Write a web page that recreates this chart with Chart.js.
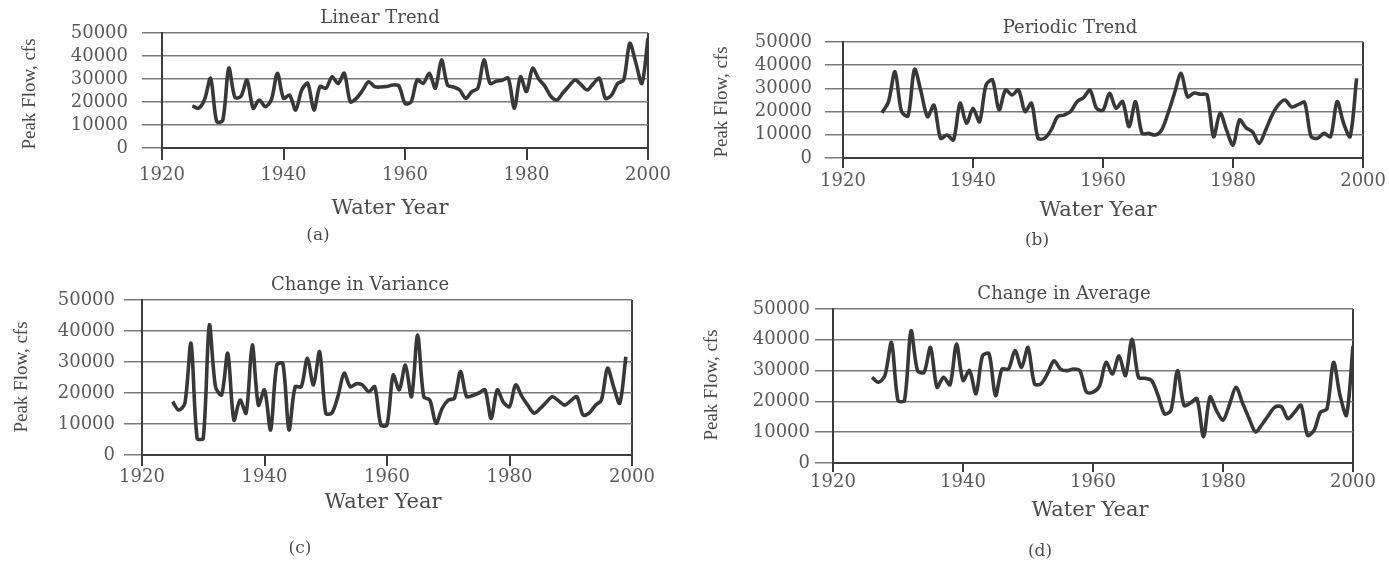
<!DOCTYPE html>
<html>
<head>
<meta charset="utf-8">
<script src="https://cdn.jsdelivr.net/npm/chart.js@4.4.0/dist/chart.umd.min.js"></script>
<style>
  html, body { margin: 0; padding: 0; background: #ffffff; }
  #wrap { position: relative; width: 1389px; height: 566px; overflow: hidden; background: #fff; }
  canvas { position: absolute; }
</style>
</head>
<body>
<div id="wrap">
  <canvas id="cA"></canvas>
  <canvas id="cB"></canvas>
  <canvas id="cC"></canvas>
  <canvas id="cD"></canvas>
</div>
<script>
// ---------------- DATA ----------------
const xTickLabels = [1920, 1940, 1960, 1980, 2000];
const yTickLabels = [0, 10000, 20000, 30000, 40000, 50000];

const panelTitles = ["Linear Trend", "Periodic Trend", "Change in Variance", "Change in Average"];
const panelLetters = ["(a)", "(b)", "(c)", "(d)"];
const xAxisTitle = "Water Year";
const yAxisTitle = "Peak Flow, cfs";

const yearsA = [1925,1926,1927,1928,1929,1930,1931,1932,1933,1934,1935,1936,1937,1938,1939,1940,1941,1942,1943,1944,1945,1946,1947,1948,1949,1950,1951,1952,1953,1954,1955,1956,1957,1958,1959,1960,1961,1962,1963,1964,1965,1966,1967,1968,1969,1970,1971,1972,1973,1974,1975,1976,1977,1978,1979,1980,1981,1982,1983,1984,1985,1986,1987,1988,1989,1990,1991,1992,1993,1994,1995,1996,1997,1998,1999,2000];
const flowLinear = [18300,17300,21000,30300,11500,12000,34700,22000,22500,29600,17300,20900,18000,21000,32500,21600,23000,16500,25200,28100,16500,26700,26000,31000,28000,32500,20100,21600,25000,28800,26700,26500,26700,27400,27000,19400,20000,29600,28100,32500,26000,38300,27400,26500,25200,21600,24500,26000,38300,28100,29000,29500,30300,17300,31000,24500,34700,30000,27000,22500,20900,24000,27000,29600,27500,25200,28000,30300,21600,23000,28000,29600,45500,37000,28100,47700];

const yearsB = [1926,1927,1928,1929,1930,1931,1932,1933,1934,1935,1936,1937,1938,1939,1940,1941,1942,1943,1944,1945,1946,1947,1948,1949,1950,1951,1952,1953,1954,1955,1956,1957,1958,1959,1960,1961,1962,1963,1964,1965,1966,1967,1968,1969,1970,1971,1972,1973,1974,1975,1976,1977,1978,1979,1980,1981,1982,1983,1984,1985,1986,1987,1988,1989,1990,1991,1992,1993,1994,1995,1996,1997,1998,1999];
const flowPeriodic = [19500,24300,37200,20000,18100,38200,28600,17800,22800,8500,9900,7800,23600,15000,21400,15600,31500,33600,20700,29300,27200,29300,20000,23600,8500,8500,12000,17800,18500,20000,24300,26000,29300,21400,20700,27900,21400,24300,13500,24300,10600,10600,9900,12000,19300,28000,36500,26400,28000,27500,27200,9200,19300,12000,5600,16400,13000,11300,6300,12000,18500,23000,25000,22000,23000,24000,9200,8500,10600,9200,24300,15000,9200,34300];

const yearsC = [1925,1926,1927,1928,1929,1930,1931,1932,1933,1934,1935,1936,1937,1938,1939,1940,1941,1942,1943,1944,1945,1946,1947,1948,1949,1950,1951,1952,1953,1954,1955,1956,1957,1958,1959,1960,1961,1962,1963,1964,1965,1966,1967,1968,1969,1970,1971,1972,1973,1974,1975,1976,1977,1978,1979,1980,1981,1982,1983,1984,1985,1986,1987,1988,1989,1990,1991,1992,1993,1994,1995,1996,1997,1998,1999];
const flowVariance = [17200,14500,16700,36000,5400,5400,41900,22000,19400,32800,11300,17700,13500,35500,16100,21000,8100,29000,29500,8100,22000,22000,31200,22600,33300,13500,13500,19000,26400,22000,23000,22600,20400,22000,9700,9700,25800,21000,29000,18800,38700,18800,17700,10200,15000,17700,18300,26900,18800,19200,20000,21000,11800,21000,17000,15600,22600,19000,16000,13500,15000,17000,18800,17500,16100,17500,18800,12900,13500,16000,17700,28000,22000,16700,31700];

const yearsD = [1926,1927,1928,1929,1930,1931,1932,1933,1934,1935,1936,1937,1938,1939,1940,1941,1942,1943,1944,1945,1946,1947,1948,1949,1950,1951,1952,1953,1954,1955,1956,1957,1958,1959,1960,1961,1962,1963,1964,1965,1966,1967,1968,1969,1970,1971,1972,1973,1974,1975,1976,1977,1978,1979,1980,1981,1982,1983,1984,1985,1986,1987,1988,1989,1990,1991,1992,1993,1994,1995,1996,1997,1998,1999,2000];
const flowAverage = [27800,26200,28500,39100,20300,20300,42900,30000,29400,37500,24600,27800,25400,38600,26800,30000,22500,34800,35500,21900,30500,30500,36500,31000,37500,25700,25700,29000,33200,30500,30000,30500,29900,23000,23000,25000,32700,28900,34800,28400,40200,27800,27500,26800,22000,16000,17100,30000,18700,19500,20900,8500,21400,17000,13900,19000,24600,19500,14500,10100,12500,15500,18200,18200,14400,16500,18700,9000,10600,16500,17600,32700,22000,15500,38000];

// ---------------- STYLE / LAYOUT ----------------
const AXIS = '#3c3c3c';
const GRID = '#7a7a7a';
const TICK = '#5a5a5a';
const TEXT = '#4a4a4a';
const LINE = '#383838';
const YW = 120, XH = 40;

const panels = [
  { id:'cA', years: yearsA, values: flowLinear, box:{left:0, top:0, w:694, h:270},
    plot:{L:162, R:648, T:33, B:148}, ytl:20, ypad:14, xtl:12, xpad:5,
    title:[380,18], ytitle:[30,94], xtitle:[390,209], letter:[318,236] },
  { id:'cB', years: yearsB, values: flowPeriodic, box:{left:694, top:0, w:695, h:270},
    plot:{L:843, R:1365, T:42, B:158}, ytl:18, ypad:13, xtl:10, xpad:3,
    title:[1070,28], ytitle:[722,102], xtitle:[1098,211], letter:[1037,241] },
  { id:'cC', years: yearsC, values: flowVariance, box:{left:0, top:270, w:694, h:296},
    plot:{L:142, R:632, T:300, B:455}, ytl:18, ypad:9, xtl:11, xpad:1,
    title:[360,285], ytitle:[22,377], xtitle:[383,503], letter:[300,549] },
  { id:'cD', years: yearsD, values: flowAverage, box:{left:694, top:270, w:695, h:296},
    plot:{L:833, R:1353, T:309, B:463}, ytl:18, ypad:5, xtl:9, xpad:0,
    title:[1064,294], ytitle:[712,385], xtitle:[1090,511], letter:[1040,552] }
];

function makeTextPlugin(p, idx) {
  return {
    id: 'panelText' + idx,
    afterDraw(chart) {
      const ctx = chart.ctx;
      const ox = p.box.left, oy = p.box.top;
      const items = [
        { t: panelTitles[idx], pos: p.title, font: '18px "DejaVu Serif"', rot: false },
        { t: xAxisTitle, pos: p.xtitle, font: '21px "DejaVu Serif"', rot: false },
        { t: yAxisTitle, pos: p.ytitle, font: '19px "Liberation Serif"', rot: true },
        { t: panelLetters[idx], pos: p.letter, font: '17px "DejaVu Serif"', rot: false }
      ];
      items.forEach(it => {
        ctx.save();
        ctx.font = it.font;
        ctx.fillStyle = TEXT;
        ctx.textAlign = 'center';
        ctx.textBaseline = 'middle';
        ctx.translate(it.pos[0] - ox, it.pos[1] - oy);
        if (it.rot) ctx.rotate(-Math.PI / 2);
        ctx.fillText(it.t, 0, 0);
        ctx.restore();
      });
    }
  };
}

panels.forEach((p, idx) => {
  const cv = document.getElementById(p.id);
  cv.width = p.box.w; cv.height = p.box.h;
  cv.style.left = p.box.left + 'px'; cv.style.top = p.box.top + 'px';
  cv.style.width = p.box.w + 'px'; cv.style.height = p.box.h + 'px';
  const L = p.plot.L - p.box.left, R = p.plot.R - p.box.left;
  const T = p.plot.T - p.box.top, B = p.plot.B - p.box.top;

  new Chart(cv, {
    type: 'line',
    data: {
      datasets: [{
        data: p.years.map((yr, i) => ({ x: yr, y: p.values[i] })),
        borderColor: LINE,
        borderWidth: 3.6,
        pointRadius: 0,
        tension: 0.3,
        fill: false
      }]
    },
    options: {
      responsive: false,
      animation: false,
      devicePixelRatio: 1,
      layout: { padding: { left: L - YW, right: p.box.w - R, top: T, bottom: p.box.h - B - XH } },
      plugins: { legend: { display: false }, tooltip: { enabled: false }, title: { display: false } },
      scales: {
        x: {
          type: 'linear', min: xTickLabels[0], max: xTickLabels[xTickLabels.length - 1],
          afterBuildTicks: s => { s.ticks = xTickLabels.map(v => ({ value: v })); },
          afterFit: s => { s.height = XH; },
          grid: {
            drawOnChartArea: true,
            color: c => (c.tick && c.tick.value === xTickLabels[xTickLabels.length - 1]) ? AXIS : 'rgba(0,0,0,0)',
            tickColor: AXIS,
            tickLength: p.xtl,
            lineWidth: 2
          },
          border: { display: true, color: AXIS, width: 2 },
          ticks: {
            padding: p.xpad, color: TICK, autoSkip: false, maxRotation: 0,
            font: { family: 'DejaVu Serif', size: 18 },
            callback: v => String(v)
          }
        },
        y: {
          min: yTickLabels[0], max: yTickLabels[yTickLabels.length - 1],
          afterBuildTicks: s => { s.ticks = yTickLabels.map(v => ({ value: v })); },
          afterFit: s => { s.width = YW; },
          grid: { color: GRID, tickColor: GRID, lineWidth: 1.5, tickLength: p.ytl },
          border: { display: true, color: AXIS, width: 2 },
          ticks: {
            padding: p.ypad, color: TICK, autoSkip: false,
            font: { family: 'DejaVu Serif', size: 18 },
            callback: v => String(v)
          }
        }
      }
    },
    plugins: [makeTextPlugin(p, idx)]
  });
});
</script>
</body>
</html>
